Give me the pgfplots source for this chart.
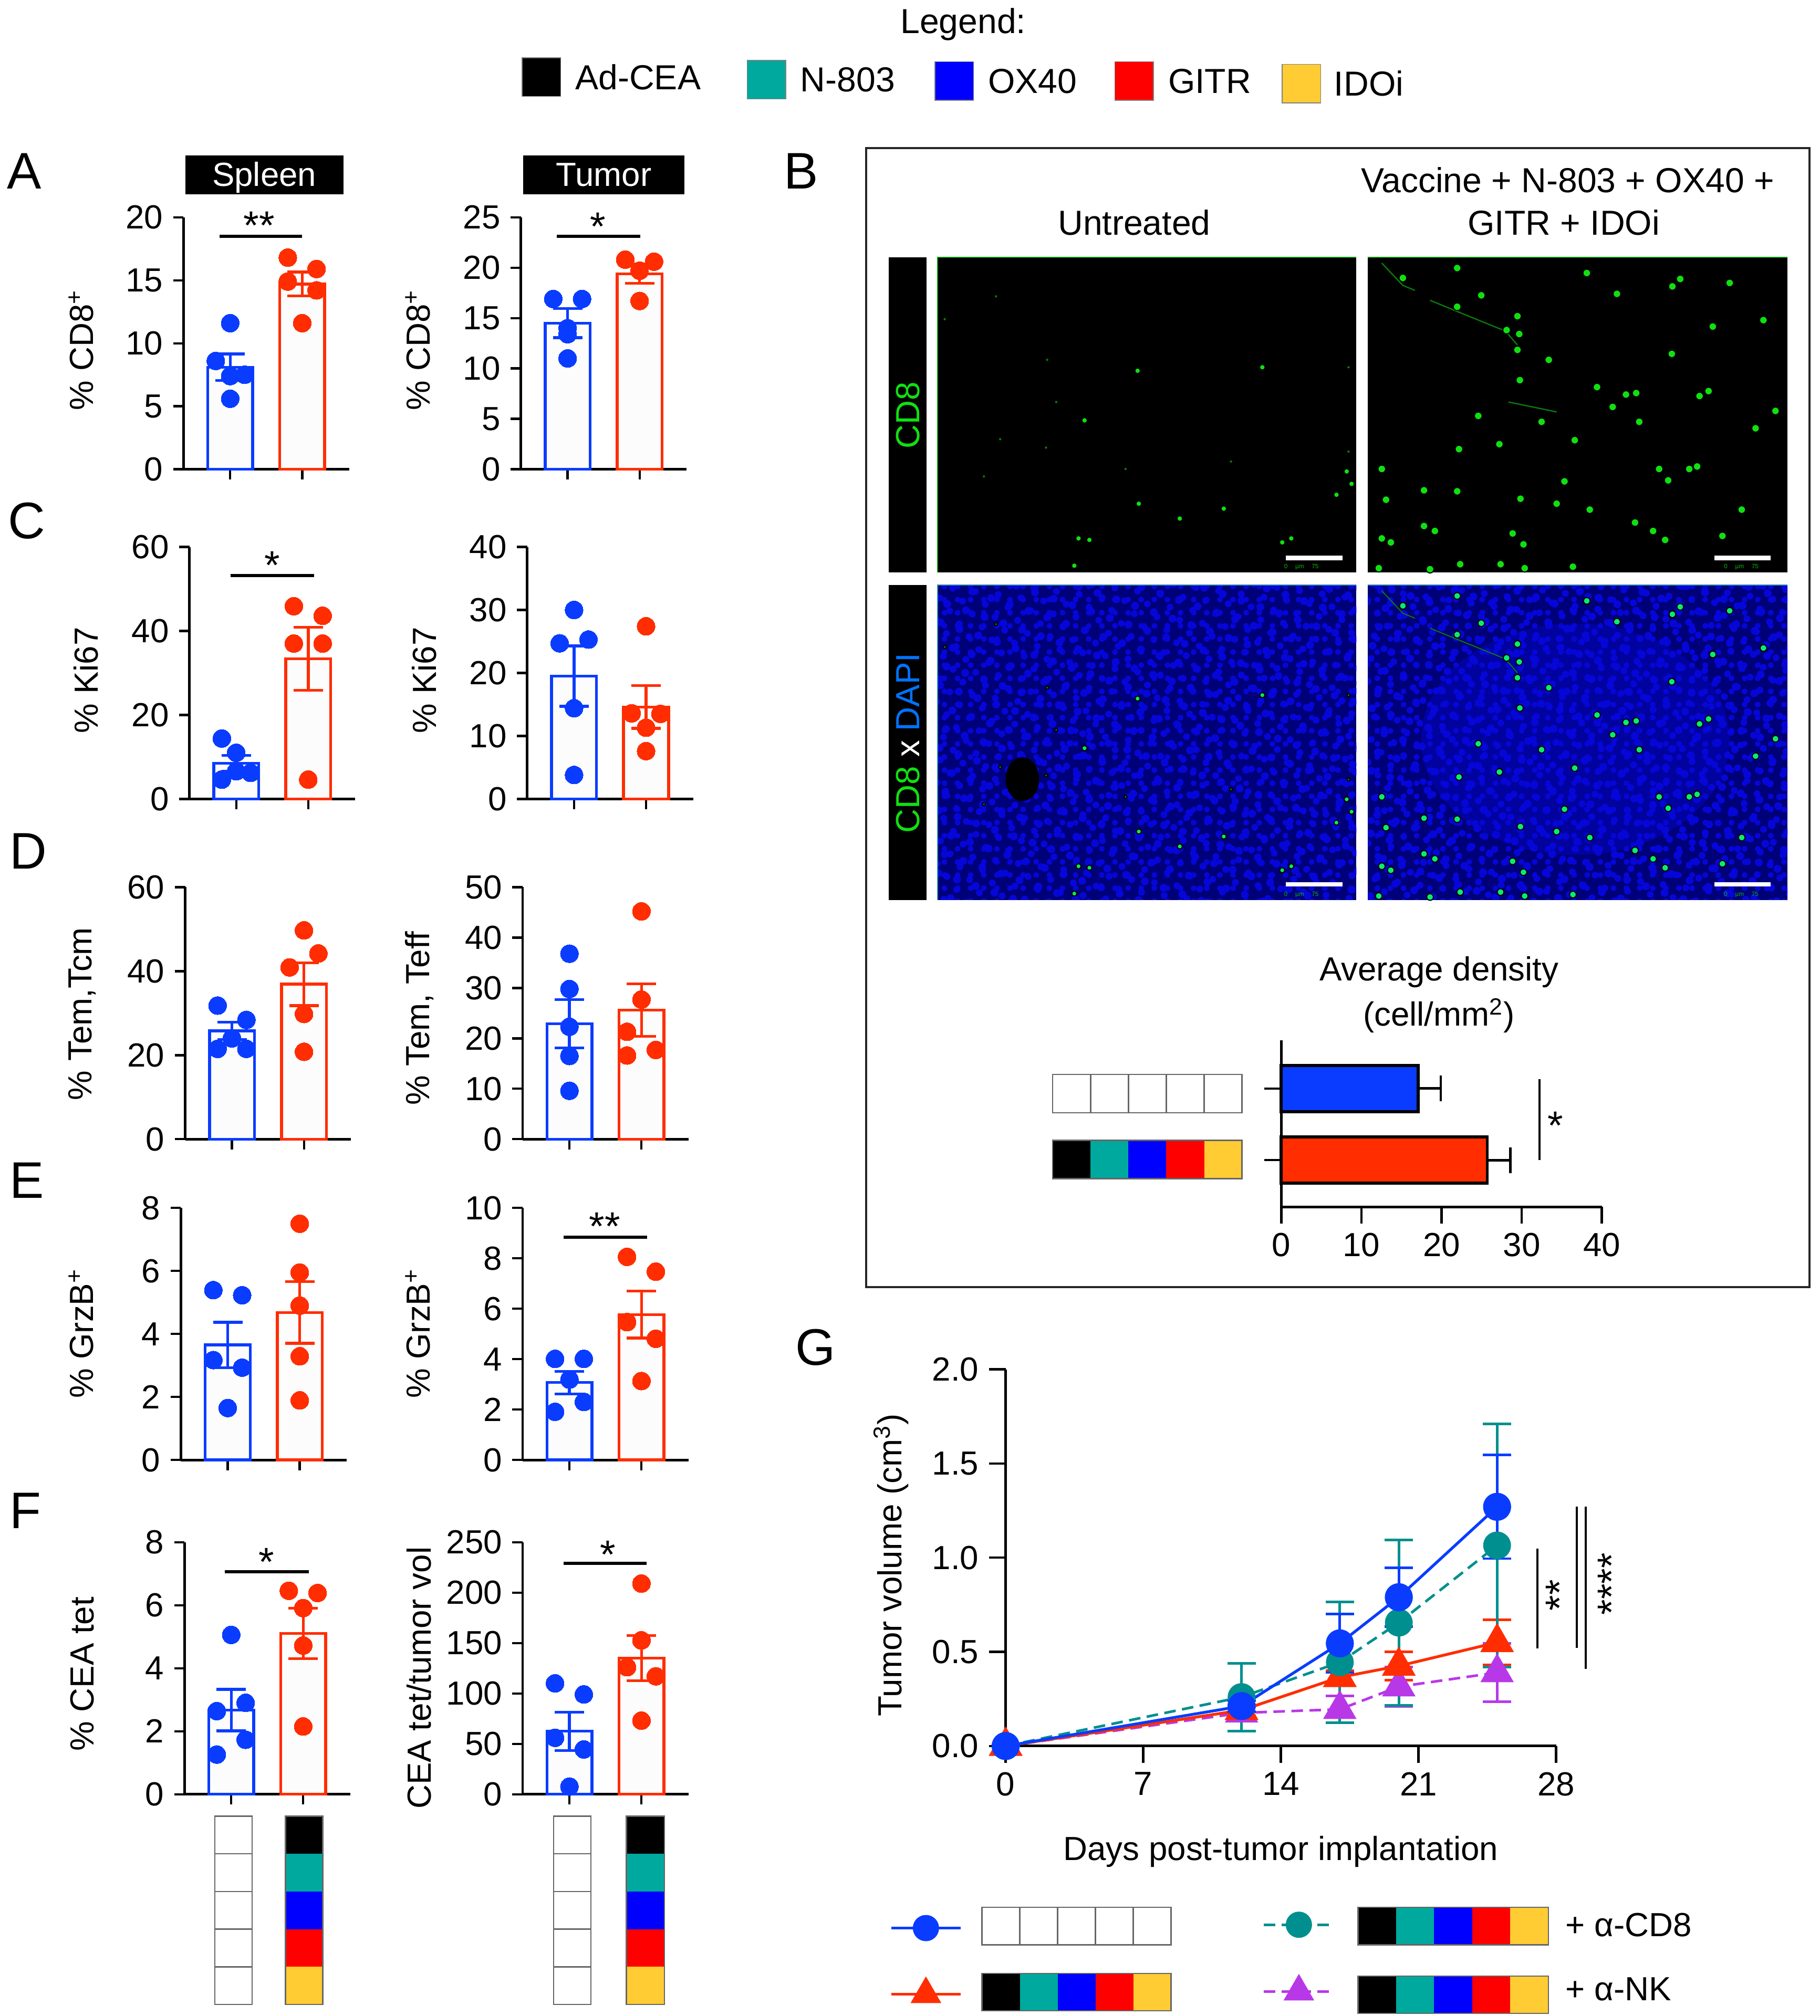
\documentclass[border=0pt]{standalone}
\usepackage{fontspec}
\setmainfont{Liberation Sans}
\usepackage{pgfplots}
\pgfplotsset{compat=1.18}
\usepackage{pgfplotstable}
\usetikzlibrary{patterns.meta}

\definecolor{cBar}{HTML}{0A3CFF}
\definecolor{rBar}{HTML}{FF2D00}
\definecolor{cTeal}{HTML}{00A99D}
\definecolor{cDot}{HTML}{008F8F}
\definecolor{cBlue}{HTML}{0000FF}
\definecolor{cRed}{HTML}{FF0000}
\definecolor{cYel}{HTML}{FFCC33}
\definecolor{cPur}{HTML}{B838E8}
\definecolor{cGreen}{HTML}{10E010}
\definecolor{cDim}{HTML}{0B7A0B}
\definecolor{cDapi}{HTML}{000078}
\definecolor{cCell}{HTML}{0606D8}

\newcommand\tf{\fontsize{13}{15}\selectfont}

% micrograph spots, read in crop pixels
\pgfplotstableread{
x y
450 462
657 455
362 562
452 730
593 740
520 760
805 690
797 665
780 712
352 800
370 803
705 800
690 808
345 855
}\leftbright
\pgfplotstableread{
x y
215 312
130 358
300 440
315 525
222 600
298 617
800 455
195 675
430 660
605 645
800 625
}\leftfaint
\pgfplotstableread{
x y
890 275
980 255
1195 265
1020 310
980 333
1245 307
1337 292
1432 285
1350 277
1488 360
1404 373
1080 352
1062 380
1083 388
1080 420
1132 440
1336 428
1084 481
1212 495
1260 510
1277 507
1382 513
1397 503
1238 535
1015 553
1120 565
1282 565
1508 543
1175 602
1050 610
983 620
1475 578
1315 660
1365 660
1378 655
855 660
1330 683
1158 685
925 703
980 705
862 722
1085 720
1145 730
1200 742
1452 742
1275 768
1305 785
1325 803
925 775
943 785
1072 790
1090 812
870 808
855 800
1420 795
985 852
1052 852
1092 860
1172 857
935 862
850 860
}\rightspots

\pgfplotsset{
  every axis/.append style={
    scale only axis, clip=false, axis lines=left,
    axis line style={-, line width=1pt},
    tick style={black, line width=.9pt},
    tick align=outside, major tick length=4pt,
    tick label style={font=\tf, inner sep=1pt},
    y tick label style={xshift=-2.8pt},
    label style={font=\tf},
    /pgf/number format/assume math mode=true,
    /pgf/number format/1000 sep={},
  },
  panel/.style n args={7}{
    at={(#1*.5pt,-#2*.5pt)}, anchor=south west,
    width=64.5pt, height=98pt,
    xmin=0.35, xmax=2.654, ymin=0, ymax=#3,
    xtick={1,2}, xticklabels={}, ytick distance=#4,
    ylabel={#5},
    ylabel style={at={(axis description cs:{(#6-#1)/129},{(#2-#7)/196})}, anchor=center},
  },
  hidden/.style n args={4}{ % left, bottom, width, height in reference px
    at={(#1*.5pt,-#2*.5pt)}, anchor=south west, hide axis, clip=true,
    width=#3*.5pt, height=#4*.5pt,
  },
}

% mean blue, sem blue, dots blue, mean red, sem red, dots red
\newcommand\barpair[6]{
  \addplot[ybar, bar width=17.5pt, bar shift=0pt, draw=cBar, fill=black!1, line width=1.1pt] coordinates {(1,#1)};
  \addplot[ybar, bar width=17.5pt, bar shift=0pt, draw=rBar, fill=black!1, line width=1.1pt] coordinates {(2,#4)};
  \addplot[only marks, mark=*, mark size=3.5pt, mark options={draw=cBar, line width=0pt, fill=cBar}] coordinates {#3};
  \addplot[only marks, mark=*, mark size=3.5pt, mark options={draw=rBar, line width=0pt, fill=rBar}] coordinates {#6};
  \addplot[draw=none, error bars/.cd, y dir=both, y explicit,
    error bar style={cBar, line width=1.1pt},
    error mark options={rotate=90, cBar, mark size=5.7pt, line width=1.1pt}]
    coordinates {(1,#1) +- (0,#2)};
  \addplot[draw=none, error bars/.cd, y dir=both, y explicit,
    error bar style={rBar, line width=1.1pt},
    error mark options={rotate=90, rBar, mark size=5.7pt, line width=1.1pt}]
    coordinates {(2,#4) +- (0,#5)};
}
% x1, x2, y of the line; x, y of the stars; stars
\newcommand\sigbar[6]{
  \addplot[black, line width=1.2pt] coordinates {(#1,#3) (#2,#3)};
  \node[font=\fontsize{15.5}{15.5}\selectfont, inner sep=0pt, yshift=-2.8pt] at (axis cs:#4,#5) {#6};
}
% five cell strips
\newcommand\hfull[4]{
  \pgfmathsetmacro\w{(#3-#1)/5}
  \foreach \c [count=\i from 0] in {black,cTeal,cBlue,cRed,cYel}
    \fill[\c] ({#1+\i*\w},#2) rectangle ({#1+(\i+1)*\w},#4);
  \draw[black!60, line width=.5pt] (#1,#2) rectangle (#3,#4);
}
\newcommand\hempty[4]{
  \pgfmathsetmacro\w{(#3-#1)/5}
  \foreach \i in {1,2,3,4} \draw[black!60, line width=.5pt] ({#1+\i*\w},#2) -- ({#1+\i*\w},#4);
  \draw[black!60, line width=.5pt] (#1,#2) rectangle (#3,#4);
}
\newcommand\vfull[4]{
  \pgfmathsetmacro\w{(#4-#2)/5}
  \foreach \c [count=\i from 0] in {black,cTeal,cBlue,cRed,cYel}
    \fill[\c] (#1,{#2+\i*\w}) rectangle (#3,{#2+(\i+1)*\w});
  \draw[black!60, line width=.5pt] (#1,#2) rectangle (#3,#4);
}
\newcommand\vempty[4]{
  \pgfmathsetmacro\w{(#4-#2)/5}
  \foreach \i in {1,2,3,4} \draw[black!60, line width=.5pt] (#1,{#2+\i*\w}) -- (#3,{#2+\i*\w});
  \draw[black!60, line width=.5pt] (#1,#2) rectangle (#3,#4);
}
\newcommand\swatch[5]{
  \fill[#1, draw=black!50, line width=.3pt] (#2,#3) rectangle ++(30,30);
  \node[anchor=west, inner sep=0pt, font=\fontsize{13.5}{15}\selectfont] at (#4,#3+15) {#5};
}

\begin{document}
\begin{tikzpicture}
\begin{scope}[x=.5pt, y=-.5pt]
  \path[use as bounding box] (0,0) rectangle (1415,1568);
  % legend
  \node[font=\fontsize{13.5}{15}\selectfont, inner sep=0pt] at (749,19) {Legend:};
  \swatch{black}{406}{45}{447}{Ad-CEA}
  \swatch{cTeal}{581}{47}{622}{N-803}
  \swatch{cBlue}{727}{48}{768}{OX40}
  \swatch{cRed}{867}{48}{908}{GITR}
  \swatch{cYel}{997}{50}{1037}{IDOi}
  % panel letters
  \foreach \l/\x/\y in {A/5/133,B/609/133,C/6/405,D/7/662,E/7/918,F/7/1175,G/618/1048}
    \node[anchor=west, inner sep=0pt, font=\fontsize{20}{22}\selectfont] at (\x,\y) {\l};
  % tissue headers
  \fill[black] (144,121) rectangle (267,151);
  \fill[black] (407,121) rectangle (532,151);
  \node[white, inner sep=0pt, font=\tf] at (205.5,138) {Spleen};
  \node[white, inner sep=0pt, font=\tf] at (469.5,136) {Tumor};
  % panel B frame
  \draw[black!85, line width=.8pt] (673.5,115) rectangle (1407,1001);
  \node[inner sep=0pt, font=\fontsize{13.5}{15}\selectfont] at (882,173) {Untreated};
  \node[inner sep=0pt, font=\fontsize{13.5}{15}\selectfont] at (1219,140) {Vaccine + N-803 + OX40 +};
  \node[inner sep=0pt, font=\fontsize{13.5}{15}\selectfont] at (1216,173) {GITR + IDOi};
  \fill[black] (691,200) rectangle (720.6,445);
  \fill[black] (691,455) rectangle (720.6,700);
  \node[rotate=90, inner sep=0pt, font=\tf, cGreen] at (706,323) {CD8};
  \node[rotate=90, inner sep=0pt, font=\tf] at (706,578) {\textcolor{cGreen}{CD8} \textcolor{white}{x} \textcolor{blue!55!cyan}{DAPI}};
  % micrographs
  \fill[black] (729,200) rectangle (1054.7,445);
  \fill[black] (1063.7,200) rectangle (1390,445);
  \fill[cDapi] (729,455) rectangle (1054.7,700);
  \fill[cDapi] (1063.7,455) rectangle (1390,700);
  \foreach \a/\d/\r in {0/5.1pt/1.15pt,37/6.3pt/1.35pt,71/7.7pt/1.55pt} {
    \fill[pattern={Dots[distance=\d, angle=\a, radius=\r]}, pattern color=cCell]
      (729,455) rectangle (1054.7,700);
    \fill[pattern={Dots[distance=\d, angle=\a, radius=\r]}, pattern color=cCell]
      (1063.7,455) rectangle (1390,700);
  }
  \fill[cCell, opacity=.4] (1225,575) ellipse (120 and 90);
  \fill[black] (795,606) ellipse (13 and 17);
  \draw[cGreen!70!black, line width=.4pt] (729,445) |- (1054.7,200);
  \draw[cGreen!70!black, line width=.4pt] (1063.7,200) -- (1390,200);
  \draw[cyan!70!black, line width=.4pt] (729,700) |- (1054.7,455);
  \draw[cyan!70!black, line width=.4pt] (1063.7,455) -- (1390,455);
  \foreach \x in {1000,1333} \foreach \y in {432,686}
    \fill[white] (\x,\y) rectangle ++(44,3.6);
  \foreach \x in {1012,1354} \foreach \y in {441,696}
    \node[cGreen!80!black, inner sep=0pt, font=\fontsize{2.4}{3}\selectfont] at (\x,\y) {0\hspace{3pt}µm\hspace{3pt}75};
  % strips
  \hempty{818.6}{835.7}{965.8}{865.4}
  \hfull{818.6}{887}{965.8}{916.7}
  \node[inner sep=0pt, font=\tf] at (1119,756) {Average density};
  \node[inner sep=0pt, font=\tf] at (1119,790) {(cell/mm\textsuperscript{2})};
  \vempty{167}{1412.6}{196}{1559}
  \vfull{222}{1412.6}{251}{1559}
  \vempty{430.6}{1412.6}{459.5}{1559}
  \vfull{487}{1412.6}{516.6}{1559}
  \hempty{763.6}{1483.5}{910.6}{1512.6}
  \hfull{763.6}{1535}{910.6}{1564}
  \hfull{1056}{1483.5}{1204}{1512.6}
  \hfull{1056}{1537}{1204}{1566}
  \node[anchor=west, inner sep=0pt, font=\tf] at (1217,1497) {+ α-CD8};
  \node[anchor=west, inner sep=0pt, font=\tf] at (1217,1547) {+ α-NK};
\end{scope}

% A
\begin{axis}[panel={142.6}{365}{20}{5}{\% CD8\textsuperscript{+}}{63}{272}]
  \barpair{8.1}{1.05}{(1,11.6) (0.8,8.6) (1,7.4) (1.2,7.5) (1,5.6)}
          {14.7}{0.95}{(1.8,16.8) (2.2,15.9) (1.8,14.9) (2.2,14.2) (2,11.6)}
  \sigbar{0.85}{2.0}{18.5}{1.4}{19.9}{**}
\end{axis}
\begin{axis}[panel={405}{365}{25}{5}{\% CD8\textsuperscript{+}}{325}{272}]
  \barpair{14.5}{1.45}{(0.8,16.9) (1.2,16.9) (1,14) (1,13.4) (1,11)}
          {19.4}{0.95}{(1.8,20.8) (2.2,20.6) (2,19.7) (2,16.7)}
  \sigbar{0.85}{2.01}{23.1}{1.42}{24.8}{*}
\end{axis}
% C
\begin{axis}[panel={147.3}{621.4}{60}{20}{\% Ki67}{67}{529}]
  \barpair{8.5}{1.9}{(0.8,14.4) (1,11) (0.8,4.6) (1.2,6.2) (1,6.6)}
          {33.4}{7.5}{(1.8,45.9) (2.2,43.6) (1.8,37) (2.2,37) (2,4.6)}
  \sigbar{0.92}{2.08}{53.2}{1.5}{57.3}{*}
\end{axis}
\begin{axis}[panel={410}{621.4}{40}{10}{\% Ki67}{330}{529}]
  \barpair{19.5}{4.8}{(1,30) (0.8,24.7) (1.2,25.3) (1,14.4) (1,3.8)}
          {14.6}{3.4}{(2,27.4) (1.8,13.6) (2.2,13.5) (2,11.3) (2,7.6)}
\end{axis}
% D
\begin{axis}[panel={144}{886}{60}{20}{\% Tem,Tcm}{64}{788.5}]
  \barpair{25.8}{2.05}{(0.8,31.8) (1.2,28.4) (1,24) (0.8,21.5) (1.2,21.5)}
          {36.9}{5.1}{(2,49.7) (2.2,44.2) (1.8,40.9) (2,29.8) (2,20.8)}
\end{axis}
\begin{axis}[panel={406.4}{886}{50}{10}{\% Tem, Teff}{326}{792}]
  \barpair{22.9}{4.8}{(1,36.8) (1,29.8) (1,22.3) (1,16.5) (1,9.6)}
          {25.6}{5.2}{(2,45.2) (2,27.7) (1.8,21.3) (1.8,16.6) (2.2,17.7)}
\end{axis}
% E
\begin{axis}[panel={140.7}{1135.5}{8}{2}{\% GrzB\textsuperscript{+}}{63}{1037}]
  \barpair{3.65}{0.72}{(0.8,5.39) (1.2,5.23) (0.8,3.17) (1.2,2.93) (1,1.65)}
          {4.68}{0.98}{(2,7.5) (2,5.95) (2,4.9) (2,3.29) (2,1.89)}
\end{axis}
\begin{axis}[panel={406.4}{1135.5}{10}{2}{\% GrzB\textsuperscript{+}}{325}{1037}]
  \barpair{3.07}{0.45}{(0.8,4.01) (1.2,4.01) (1,3.19) (1.2,2.3) (0.8,1.91)}
          {5.77}{0.93}{(1.8,8.06) (2.2,7.47) (1.8,5.47) (2.2,4.81) (2,3.13)}
  \sigbar{0.92}{2.08}{8.84}{1.49}{9.55}{**}
\end{axis}
% F
\begin{axis}[panel={143.4}{1395.5}{8}{2}{\% CEA tet}{64}{1302}]
  \barpair{2.67}{0.66}{(1,5.06) (1.2,2.9) (0.8,2.64) (1.2,1.73) (0.8,1.26)}
          {5.1}{0.8}{(1.8,6.46) (2.2,6.39) (2,5.91) (2,4.72) (2,2.15)}
  \sigbar{0.91}{2.08}{7.07}{1.49}{7.6}{*}
\end{axis}
\begin{axis}[panel={406.4}{1395.5}{250}{50}{CEA tet/tumor vol}{326}{1305}]
  \barpair{62.5}{19}{(0.8,110) (1.2,99) (0.8,56) (1.2,44.5) (1,7.6)}
          {135}{22.5}{(2,209) (2,152.6) (1.8,126) (2.2,117) (2,73)}
  \sigbar{0.92}{2.07}{229}{1.53}{245}{*}
\end{axis}

% B micrograph cell positions
\begin{axis}[hidden={729}{445}{325.7}{245}, xmin=118, xmax=813, ymin=233, ymax=868, y dir=reverse]
  \addplot[only marks, mark=*, mark size=.7pt, mark options={draw=none, fill=cDim}] table {\leftfaint};
  \addplot[only marks, mark=*, mark size=1.1pt, mark options={draw=none, fill=cGreen}] table {\leftbright};
\end{axis}
\begin{axis}[hidden={1063.7}{445}{326.3}{245}, xmin=832, xmax=1528, ymin=233, ymax=868, y dir=reverse]
  \addplot[cDim, line width=.5pt] coordinates {(855,245) (890,290) (910,300)};
  \addplot[cDim, line width=.5pt] coordinates {(935,320) (985,345) (1060,382) (1080,410)};
  \addplot[cDim, line width=.5pt] coordinates {(1065,525) (1145,545)};
  \addplot[only marks, mark=*, mark size=1.5pt, mark options={draw=none, fill=cGreen}] table {\rightspots};
\end{axis}
\begin{axis}[hidden={729}{700}{325.7}{245}, xmin=118, xmax=813, ymin=233, ymax=868, y dir=reverse]
  \addplot[only marks, mark=*, mark size=.6pt, mark options={draw=none, fill=cDim}] table {\leftfaint};
  \addplot[only marks, mark=*, mark size=1pt, mark options={draw=none, fill=cGreen!70!cyan}] table {\leftbright};
\end{axis}
\begin{axis}[hidden={1063.7}{700}{326.3}{245}, xmin=832, xmax=1528, ymin=233, ymax=868, y dir=reverse]
  \addplot[cDim, line width=.4pt] coordinates {(855,245) (890,290) (910,300)};
  \addplot[cDim, line width=.4pt] coordinates {(935,320) (985,345) (1060,382) (1080,410)};
  \addplot[only marks, mark=*, mark size=1.3pt, mark options={draw=none, fill=cGreen!60!cyan}] table {\rightspots};
\end{axis}

% B density bars
\begin{axis}[at={(498.15pt,-469.35pt)}, anchor=south west, width=124.65pt, height=64.85pt,
    xmin=0, xmax=40, ymin=0.346, ymax=2.675, xtick={0,10,20,30,40}, ytick={1,2}, yticklabels={},
    major tick length=6.5pt, x tick label style={yshift=-2.5pt}]
  \addplot[xbar, bar width=17.9pt, bar shift=0pt, draw=black, fill=cBar, line width=1.2pt,
    error bars/.cd, x dir=plus, x explicit,
    error bar style={black, line width=1pt},
    error mark options={rotate=90, black, mark size=5pt, line width=1pt}]
    coordinates {(17.07,2) +- (2.83,0)};
  \addplot[xbar, bar width=17.9pt, bar shift=0pt, draw=black, fill=rBar, line width=1.2pt,
    error bars/.cd, x dir=plus, x explicit,
    error bar style={black, line width=1pt},
    error mark options={rotate=90, black, mark size=5pt, line width=1pt}]
    coordinates {(25.7,1) +- (2.9,0)};
  \addplot[black, line width=.8pt] coordinates {(32.2,2.13) (32.2,1)};
  \node[font=\fontsize{15.5}{15.5}\selectfont, inner sep=0pt, yshift=-2.8pt] at (axis cs:34.2,1.58) {*};
\end{axis}

% G
\begin{axis}[at={(391pt,-679pt)}, anchor=south west, width=214pt, height=146.5pt,
    xmin=0, xmax=28, ymin=0, ymax=2, xtick={0,7,14,21,28}, ytick={0,0.5,1,1.5,2},
    major tick length=6.5pt, x tick label style={yshift=-2.5pt}, y tick label style={xshift=0pt},
    yticklabel style={/pgf/number format/fixed, /pgf/number format/fixed zerofill, /pgf/number format/precision=1},
    xlabel={Days post-tumor implantation}, ylabel={Tumor volume (cm\textsuperscript{3})},
    xlabel style={at={(axis description cs:0.5,-0.28)}, anchor=center},
    ylabel style={at={(axis description cs:-0.208,0.48)}, anchor=center}]
  \addplot[cPur, dash pattern=on 4.5pt off 2.5pt, line width=1pt, mark=triangle*, mark size=6.5pt, mark options={solid, fill=cPur, draw=cPur},
    error bars/.cd, y dir=both, y explicit, error bar style={cPur, solid, line width=1pt},
    error mark options={rotate=90, cPur, solid, mark size=5.5pt, line width=1pt}]
    coordinates {(0,0) +- (0,0) (12,0.176) +- (0,0.03) (17,0.195) +- (0,0.07) (20,0.315) +- (0,0.105) (25,0.39) +- (0,0.155)};
  \addplot[rBar, line width=1.1pt, mark=triangle*, mark size=6.5pt, mark options={fill=rBar, draw=rBar},
    error bars/.cd, y dir=both, y explicit, error bar style={rBar, line width=1pt},
    error mark options={rotate=90, rBar, mark size=5.5pt, line width=1pt}]
    coordinates {(0,0) +- (0,0) (12,0.19) +- (0,0.03) (17,0.365) +- (0,0.035) (20,0.425) +- (0,0.075) (25,0.55) +- (0,0.12)};
  \addplot[cDot, dash pattern=on 4.5pt off 2.5pt, line width=1pt, mark=*, mark size=4.9pt, mark options={solid, fill=cDot, draw=cDot},
    error bars/.cd, y dir=both, y explicit, error bar style={cDot, solid, line width=1pt},
    error mark options={rotate=90, cDot, solid, mark size=5.5pt, line width=1pt}]
    coordinates {(0,0) +- (0,0) (12,0.26) +- (0,0.18) (17,0.445) +- (0,0.32) (20,0.655) +- (0,0.44) (25,1.065) +- (0,0.645)};
  \addplot[cBar, line width=1.1pt, mark=*, mark size=4.9pt, mark options={fill=cBar, draw=cBar},
    error bars/.cd, y dir=both, y explicit, error bar style={cBar, line width=1pt},
    error mark options={rotate=90, cBar, mark size=5.5pt, line width=1pt}]
    coordinates {(0,0) +- (0,0) (12,0.212) +- (0,0.03) (17,0.545) +- (0,0.155) (20,0.79) +- (0,0.155) (25,1.27) +- (0,0.275)};
  \addplot[black, line width=.8pt] coordinates {(27.06,1.048) (27.06,0.517)};
  \addplot[black, line width=.8pt] coordinates {(29.05,1.27) (29.05,0.52)};
  \addplot[black, line width=.8pt] coordinates {(29.5,1.27) (29.5,0.41)};
  \node[rotate=90, font=\fontsize{15.5}{15.5}\selectfont, inner sep=0pt, yshift=-3.3pt] at (axis cs:27.75,0.8) {**};
  \node[rotate=90, font=\fontsize{15.5}{15.5}\selectfont, inner sep=0pt, yshift=-3.3pt] at (axis cs:30.4,0.86) {****};
\end{axis}

% G legend keys
\begin{axis}[hidden={693}{1560}{344}{70}, clip=false, xmin=693, xmax=1037, ymin=1490, ymax=1560, y dir=reverse]
  \addplot[cBar, line width=1.1pt] coordinates {(693,1499.6) (747,1499.6)};
  \addplot[only marks, mark=*, mark size=4.9pt, mark options={fill=cBar, draw=cBar}] coordinates {(720,1499.6)};
  \addplot[rBar, line width=1.1pt] coordinates {(693,1551) (747,1551)};
  \addplot[only marks, mark=triangle*, mark size=6.5pt, mark options={fill=rBar, draw=rBar}] coordinates {(720,1551)};
  \addplot[cDot, dash pattern=on 4.5pt off 2.5pt, line width=1pt] coordinates {(982.5,1497) (1037,1497)};
  \addplot[only marks, mark=*, mark size=4.9pt, mark options={fill=cDot, draw=cDot}] coordinates {(1010,1497)};
  \addplot[cPur, dash pattern=on 4.5pt off 2.5pt, line width=1pt] coordinates {(982.5,1549) (1037,1549)};
  \addplot[only marks, mark=triangle*, mark size=6.5pt, mark options={fill=cPur, draw=cPur}] coordinates {(1010,1549)};
\end{axis}
\end{tikzpicture}
\end{document}
